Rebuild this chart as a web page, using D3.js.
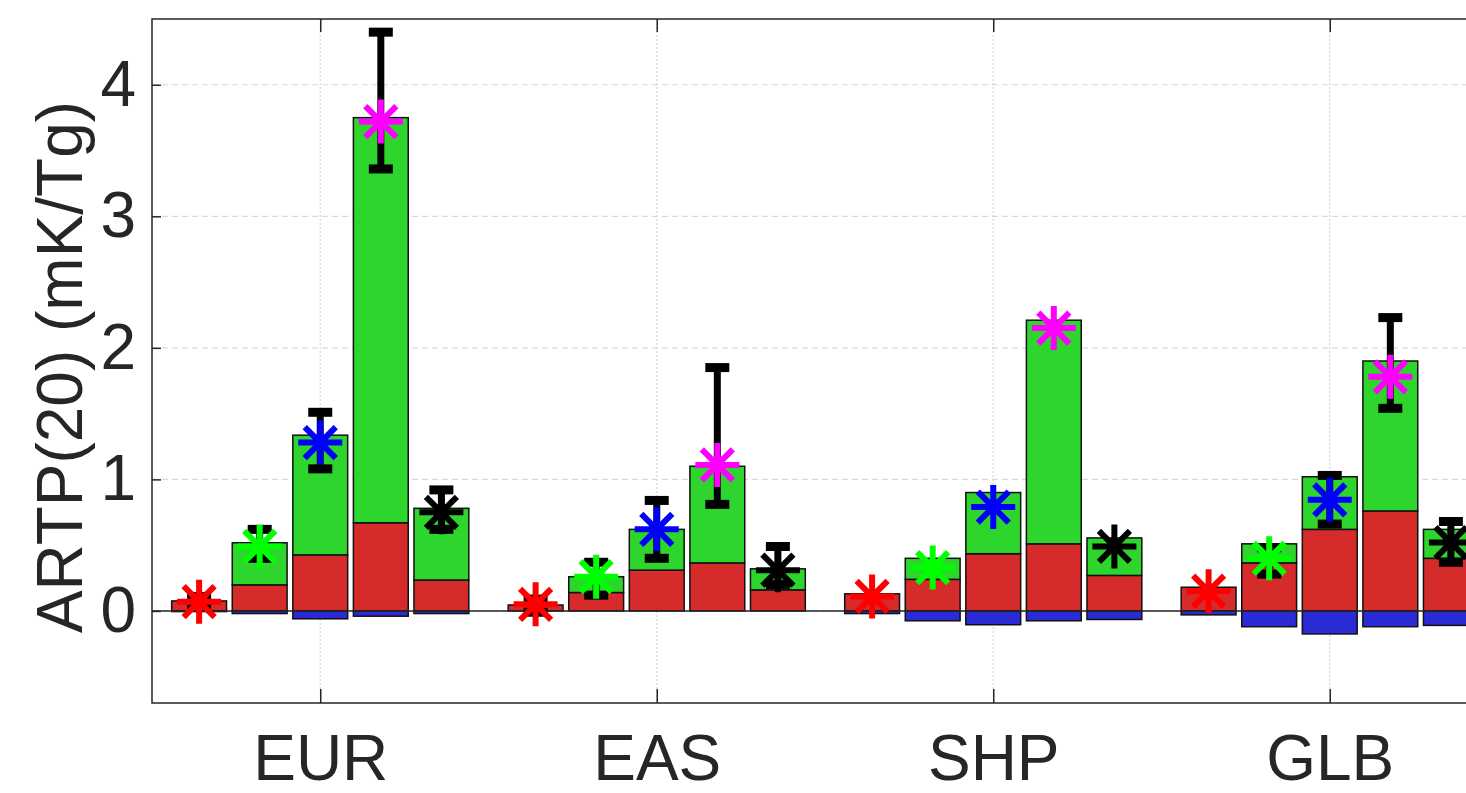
<!DOCTYPE html>
<html>
<head>
<meta charset="utf-8">
<script src="https://cdn.jsdelivr.net/npm/d3@7"></script>
<style>
  body { margin: 0; background: #fff; }
  text { font-family: "Liberation Sans", Arial, Helvetica, sans-serif; fill: #262626; }
</style>
</head>
<body>
<div id="chart"></div>
<script>
// regions on the x axis, 5 bars in each
var regions = ["EUR", "EAS", "SHP", "GLB"];

// stacked parts of each bar (mK/Tg)
var redPart = [
  [0.076, 0.198, 0.426, 0.67, 0.235],
  [0.045, 0.14, 0.31, 0.365, 0.16],
  [0.13, 0.24, 0.435, 0.51, 0.27],
  [0.18, 0.365, 0.62, 0.76, 0.40]
];
var greenPart = [
  [0, 0.32, 0.91, 3.08, 0.545],
  [0, 0.12, 0.31, 0.735, 0.16],
  [0, 0.16, 0.465, 1.70, 0.285],
  [0, 0.145, 0.40, 1.14, 0.22]
];
var bluePart = [
  [-0.005, -0.02, -0.06, -0.04, -0.02],
  [0, 0, 0, 0, 0],
  [-0.02, -0.075, -0.105, -0.075, -0.065],
  [-0.03, -0.12, -0.175, -0.12, -0.11]
];

// asterisk values and error ranges
var starValue = [
  [0.07, 0.49, 1.28, 3.72, 0.75],
  [0.05, 0.26, 0.62, 1.11, 0.31],
  [0.11, 0.33, 0.79, 2.15, 0.49],
  [0.15, 0.40, 0.845, 1.78, 0.52]
];
var errLow = [
  [0.05, 0.40, 1.08, 3.36, 0.62],
  [-0.01, 0.12, 0.40, 0.81, 0.20],
  [null, null, null, null, null],
  [null, 0.28, 0.66, 1.54, 0.37]
];
var errHigh = [
  [0.11, 0.62, 1.51, 4.40, 0.92],
  [0.09, 0.37, 0.84, 1.85, 0.49],
  [null, null, null, null, null],
  [null, 0.48, 1.03, 2.23, 0.68]
];

var yTicks = [0, 1, 2, 3, 4];
var starColors = ["#ff0000", "#00ff00", "#0000ff", "#ff00ff", "#000000"];

var W = 1466, H = 793;
var mLeft = 152, mTop = 19, mBottom = 703;

var svg = d3.select("#chart")
  .append("svg")
    .attr("width", W)
    .attr("height", H);

var x = d3.scaleLinear()
  .domain([0.5, regions.length + 0.5])
  .range([mLeft, mLeft + 336.5 * regions.length]);

var y = d3.scaleLinear()
  .domain([-0.7, 4.5])
  .range([mBottom, mTop]);

var offsets = [-0.36, -0.18, 0, 0.18, 0.36];
var bw = x(0.163) - x(0);

// grid
svg.append("g")
  .selectAll("line")
  .data(yTicks)
  .enter().append("line")
    .attr("x1", mLeft).attr("x2", x.range()[1])
    .attr("y1", function(d) { return y(d); })
    .attr("y2", function(d) { return y(d); })
    .attr("stroke", "#d9d9d9")
    .attr("stroke-width", 1.2)
    .attr("stroke-dasharray", "6,4");

svg.append("g")
  .selectAll("line")
  .data(regions)
  .enter().append("line")
    .attr("x1", function(d, i) { return x(i + 1); })
    .attr("x2", function(d, i) { return x(i + 1); })
    .attr("y1", mTop).attr("y2", mBottom)
    .attr("stroke", "#d4d4d4")
    .attr("stroke-width", 1.2)
    .attr("stroke-dasharray", "2,2");

// flatten into one row per bar
var rows = [];
regions.forEach(function(r, i) {
  for (var j = 0; j < 5; j++) {
    rows.push({
      pos: i + 1 + offsets[j], j: j,
      red: redPart[i][j], green: greenPart[i][j], blue: bluePart[i][j],
      star: starValue[i][j], lo: errLow[i][j], hi: errHigh[i][j]
    });
  }
});

var bars = svg.append("g");

function stackRect(cls, color, y0, y1) {
  bars.selectAll("rect." + cls)
    .data(rows.filter(function(d) { return y0(d) !== y1(d); }))
    .enter().append("rect")
      .attr("class", cls)
      .attr("x", function(d) { return x(d.pos) - bw / 2; })
      .attr("width", bw)
      .attr("y", function(d) { return y(Math.max(y0(d), y1(d))); })
      .attr("height", function(d) { return Math.abs(y(y0(d)) - y(y1(d))); })
      .attr("fill", color)
      .attr("stroke", "#111")
      .attr("stroke-width", 1.5);
}
stackRect("red", "#d62b2b", function(d) { return 0; }, function(d) { return d.red; });
stackRect("green", "#2dd52d", function(d) { return d.red; }, function(d) { return d.red + d.green; });
stackRect("blue", "#2b2bd6", function(d) { return 0; }, function(d) { return d.blue; });

// baseline
svg.append("line")
  .attr("x1", mLeft).attr("x2", W)
  .attr("y1", y(0)).attr("y2", y(0))
  .attr("stroke", "#262626")
  .attr("stroke-width", 1.5);

// error bars
var eb = svg.append("g")
  .selectAll("g")
  .data(rows.filter(function(d) { return d.lo != null; }))
  .enter().append("g")
    .attr("stroke", "#000")
    .attr("stroke-width", 7);
eb.append("line")
  .attr("x1", function(d) { return x(d.pos); })
  .attr("x2", function(d) { return x(d.pos); })
  .attr("y1", function(d) { return y(d.lo); })
  .attr("y2", function(d) { return y(d.hi); });
eb.append("line")
  .attr("stroke-width", 9)
  .attr("x1", function(d) { return x(d.pos) - 12; })
  .attr("x2", function(d) { return x(d.pos) + 12; })
  .attr("y1", function(d) { return y(d.hi); })
  .attr("y2", function(d) { return y(d.hi); });
eb.append("line")
  .attr("stroke-width", 9)
  .attr("x1", function(d) { return x(d.pos) - 12; })
  .attr("x2", function(d) { return x(d.pos) + 12; })
  .attr("y1", function(d) { return y(d.lo); })
  .attr("y2", function(d) { return y(d.lo); });

// asterisk markers
var a = 22, b = 15.5;
var star = "M0," + (-a) + "V" + a + "M" + (-a) + ",0H" + a +
  "M" + (-b) + "," + (-b) + "L" + b + "," + b +
  "M" + (-b) + "," + b + "L" + b + "," + (-b);
svg.append("g")
  .selectAll("path")
  .data(rows)
  .enter().append("path")
    .attr("d", star)
    .attr("transform", function(d) { return "translate(" + x(d.pos) + "," + y(d.star) + ")"; })
    .attr("fill", "none")
    .attr("stroke", function(d) { return starColors[d.j]; })
    .attr("stroke-width", 6);

// axes
var yAxis = svg.append("g")
  .attr("transform", "translate(" + mLeft + ",0)")
  .call(d3.axisLeft(y).tickValues(yTicks).tickSize(-9).tickPadding(16).tickFormat(d3.format("d")));
yAxis.select(".domain").remove();
yAxis.selectAll("line").attr("stroke", "#262626").attr("stroke-width", 1.5);
yAxis.selectAll("text").attr("font-size", 64).style("font-family", "Liberation Sans, Arial, sans-serif").attr("fill", "#262626");

var xAxis = svg.append("g")
  .attr("transform", "translate(0," + mBottom + ")")
  .call(d3.axisBottom(x).tickValues([1, 2, 3, 4]).tickSize(-14).tickPadding(32)
    .tickFormat(function(d) { return regions[d - 1]; }));
xAxis.select(".domain").remove();
xAxis.selectAll("line").attr("stroke", "#262626").attr("stroke-width", 1.5);
xAxis.selectAll("text").attr("font-size", 64).style("font-family", "Liberation Sans, Arial, sans-serif").attr("fill", "#262626");

var xTop = svg.append("g")
  .attr("transform", "translate(0," + mTop + ")")
  .call(d3.axisTop(x).tickValues([1, 2, 3, 4]).tickSize(-13).tickFormat(""));
xTop.select(".domain").remove();
xTop.selectAll("line").attr("stroke", "#262626").attr("stroke-width", 1.5);

// axes box
svg.append("path")
  .attr("d", "M" + x.range()[1] + "," + mTop + "H" + mLeft + "V" + mBottom + "H" + x.range()[1])
  .attr("fill", "none")
  .attr("stroke", "#262626")
  .attr("stroke-width", 1.5);

svg.append("text")
  .attr("transform", "rotate(-90)")
  .attr("x", -367)
  .attr("y", 82)
  .style("text-anchor", "middle")
  .attr("font-size", 64)
  .text("ARTP(20) (mK/Tg)");
</script>
</body>
</html>
